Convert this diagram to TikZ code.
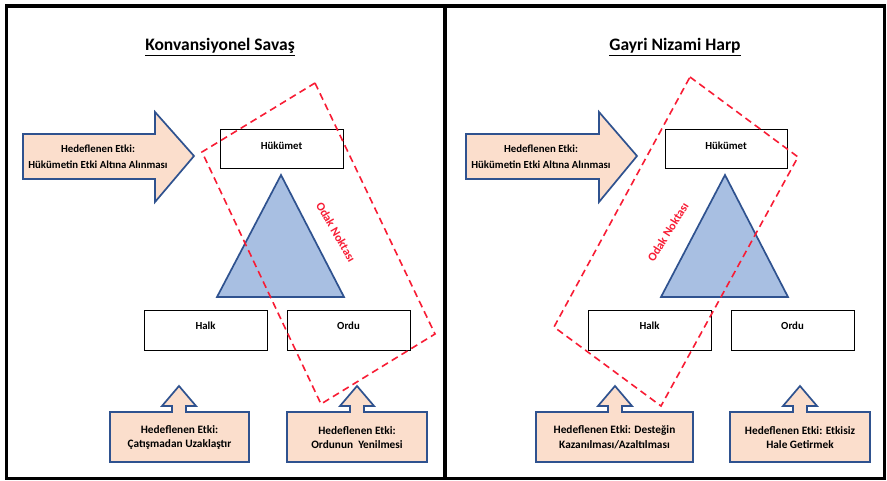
\documentclass[tikz,border=0pt]{standalone}
\usepackage{fontspec}
\setmainfont{Carlito}
\definecolor{arrowblue}{RGB}{47,82,143}
\definecolor{triblue}{RGB}{168,191,226}
\definecolor{peach}{RGB}{251,222,204}
\definecolor{focusred}{RGB}{248,28,52}
\newcommand{\upcallout}[5]{%
  \draw[arrowshape] (#1,412) -- ({#3-7},412) -- ({#3-7},406) -- ({#3-17},406) -- (#3,386)
    -- ({#3+17},406) -- ({#3+7},406) -- ({#3+7},412) -- (#2,412) -- (#2,462) -- (#1,462) -- cycle;
  \node[lbl2] (#4) at ({(#1+#2)/2},437.5) {#5};}
\begin{document}
\begin{tikzpicture}[x=1pt,y=-1pt,
  frame/.style={line width=3.5pt,black},
  box/.style={draw=black,line width=0.9pt,fill=white,inner sep=0},
  lbl/.style={font=\bfseries\fontsize{10.8}{16}\selectfont,align=center,inner sep=0},
  lbl2/.style={font=\bfseries\fontsize{11.3}{14.5}\selectfont,align=center,inner sep=0},
  ttl/.style={font=\bfseries\fontsize{17.5}{20}\selectfont,inner sep=0},
  arrowshape/.style={draw=arrowblue,fill=peach,line width=1.7pt,line join=miter},
  tri/.style={draw=arrowblue,fill=triblue,line width=1.7pt,line join=miter},
  focus/.style={draw=focusred,dash pattern=on 7pt off 4.5pt,line width=1.6pt},
  odak/.style={text=focusred,font=\bfseries\fontsize{12}{14}\selectfont,inner sep=0}]
\useasboundingbox (0,0) rectangle (887,481);
\fill[white] (0,0) rectangle (887,481);
% frames
\draw[frame] (6.5,6) rectangle (884.5,478.5);
\draw[frame] (445,6) -- (445,478.5);
% ===== left panel =====
\node[ttl] (t1) at (220,47) {\underline{Konvansiyonel Savaş}};
\draw[arrowshape] (23,134) -- (155,134) -- (155,112) -- (194,156) -- (155,202) -- (155,179) -- (23,179) -- cycle;
\node[lbl] (a1) at (98,157) {Hedeflenen Etki:\\Hükümetin Etki Altına Alınması};
\node[box,minimum width=123,minimum height=39] (hk1) at (281.5,148.5) {};
\node[lbl] (hk1t) at (281.5,146) {Hükümet};
\draw[tri] (281,175) -- (344,297) -- (217,297) -- cycle;
\node[box,minimum width=123,minimum height=40] (hl1) at (205.5,330) {};
\node[lbl] (hl1t) at (205.5,326) {Halk};
\node[box,minimum width=123,minimum height=40] (or1) at (348.5,330) {};
\node[lbl] (or1t) at (348.5,326) {Ordu};
\upcallout{110}{249}{179}{c1}{Hedeflenen Etki:\\Çatışmadan Uzaklaştır}
\upcallout{287}{427}{357}{c2}{Hedeflenen Etki:\\Ordunun\ \ Yenilmesi}
\draw[focus] (315,83) -- (435,334) -- (321,404) -- (202,152) -- cycle;
\node[odak,rotate=-60] (od1) at (336,232) {Odak Noktası};
% ===== right panel =====
\node[ttl] (t2) at (675,47) {\underline{Gayri Nizami Harp}};
\draw[arrowshape] (466,134) -- (599,134) -- (599,112) -- (637,156) -- (599,202) -- (599,179) -- (466,179) -- cycle;
\node[lbl] (a2) at (541,157) {Hedeflenen Etki:\\Hükümetin Etki Altına Alınması};
\node[box,minimum width=122,minimum height=39] (hk2) at (726,148.5) {};
\node[lbl] (hk2t) at (726,146) {Hükümet};
\draw[tri] (725,175) -- (788,297) -- (661,297) -- cycle;
\node[box,minimum width=123,minimum height=40] (hl2) at (649.5,330) {};
\node[lbl] (hl2t) at (649.5,326) {Halk};
\node[box,minimum width=123,minimum height=40] (or2) at (792.5,330) {};
\node[lbl] (or2t) at (792.5,326) {Ordu};
\upcallout{536}{693}{615}{c3}{Hedeflenen Etki: Desteğin\\Kazanılması/Azaltılması}
\upcallout{730}{870}{800}{c4}{Hedeflenen Etki: Etkisiz\\Hale Getirmek}
\draw[focus] (690,77) -- (798,157) -- (661,406) -- (554,327) -- cycle;
\node[odak,rotate=58] (od2) at (668,232) {Odak Noktası};
\end{tikzpicture}
\end{document}
